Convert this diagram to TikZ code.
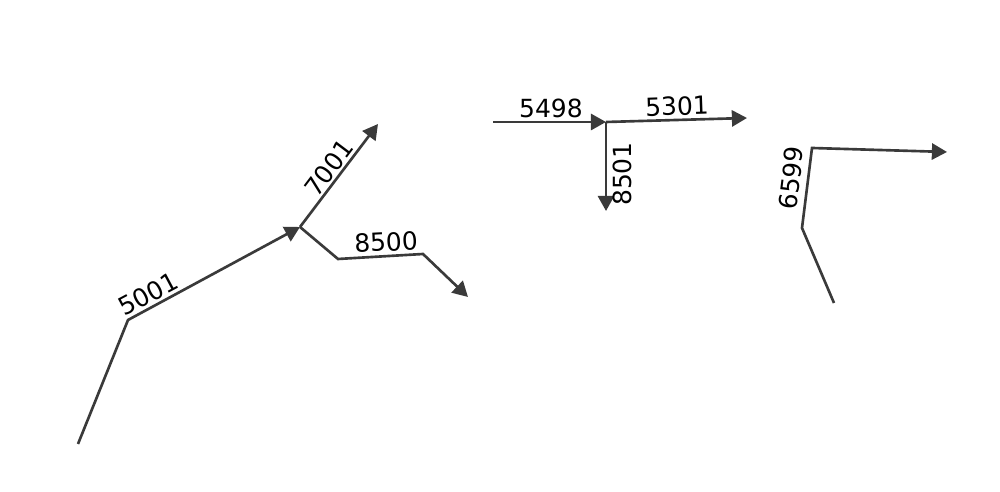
\documentclass[tikz,border=0pt]{standalone}
\usepackage{fontspec}
\setmainfont{DejaVu Sans}
\usetikzlibrary{arrows.meta}
\definecolor{pipegray}{RGB}{58,58,58}
\tikzset{
    pipe/.style={draw=pipegray, line width=0.75pt, line join=miter},
    flow/.style={pipe, -{Triangle[length=4.3pt, width=4.6pt]}},
    tag/.style={inner sep=0pt, font=\fontsize{7.1pt}{8pt}\selectfont},
}

\begin{document}
\begin{tikzpicture}[x=0.01cm, y=-0.01cm]
\useasboundingbox (0,0) rectangle (1000,492);
% left branch
\coordinate (a0) at (78,444);
\coordinate (a1) at (128,320);
\coordinate (j1) at (300,227);
\coordinate (b1) at (378,124);
\coordinate (c1) at (338,259);
\coordinate (c2) at (423,254);
\coordinate (c3) at (468,297);
\draw[flow] (a0) -- (a1) -- (j1);
\draw[flow] (j1) -- (b1);
\draw[flow] (j1) -- (c1) -- (c2) -- (c3);
% middle junction
\coordinate (d0) at (493,122);
\coordinate (j2) at (606,122);
\coordinate (e1) at (747,118);
\coordinate (f1) at (606,211);
\draw[flow] (d0) -- (j2);
\draw[flow] (j2) -- (e1);
\draw[flow] (j2) -- (f1);
% right branch
\coordinate (g0) at (834,303);
\coordinate (g1) at (802,228);
\coordinate (g2) at (812,148);
\coordinate (g3) at (947,152);
\draw[flow] (g0) -- (g1) -- (g2) -- (g3);
% labels
\node[tag, rotate=28] (t5001) at (148,294) {5001};
\node[tag, rotate=53] (t7001) at (329,168) {7001};
\node[tag, rotate=3]  (t8500) at (386,242) {8500};
\node[tag]            (t5498) at (551,108) {5498};
\node[tag, rotate=2]  (t5301) at (677,106) {5301};
\node[tag, rotate=90] (t8501) at (622,174) {8501};
\node[tag, rotate=83] (t6599) at (791,178) {6599};
\end{tikzpicture}
\end{document}
